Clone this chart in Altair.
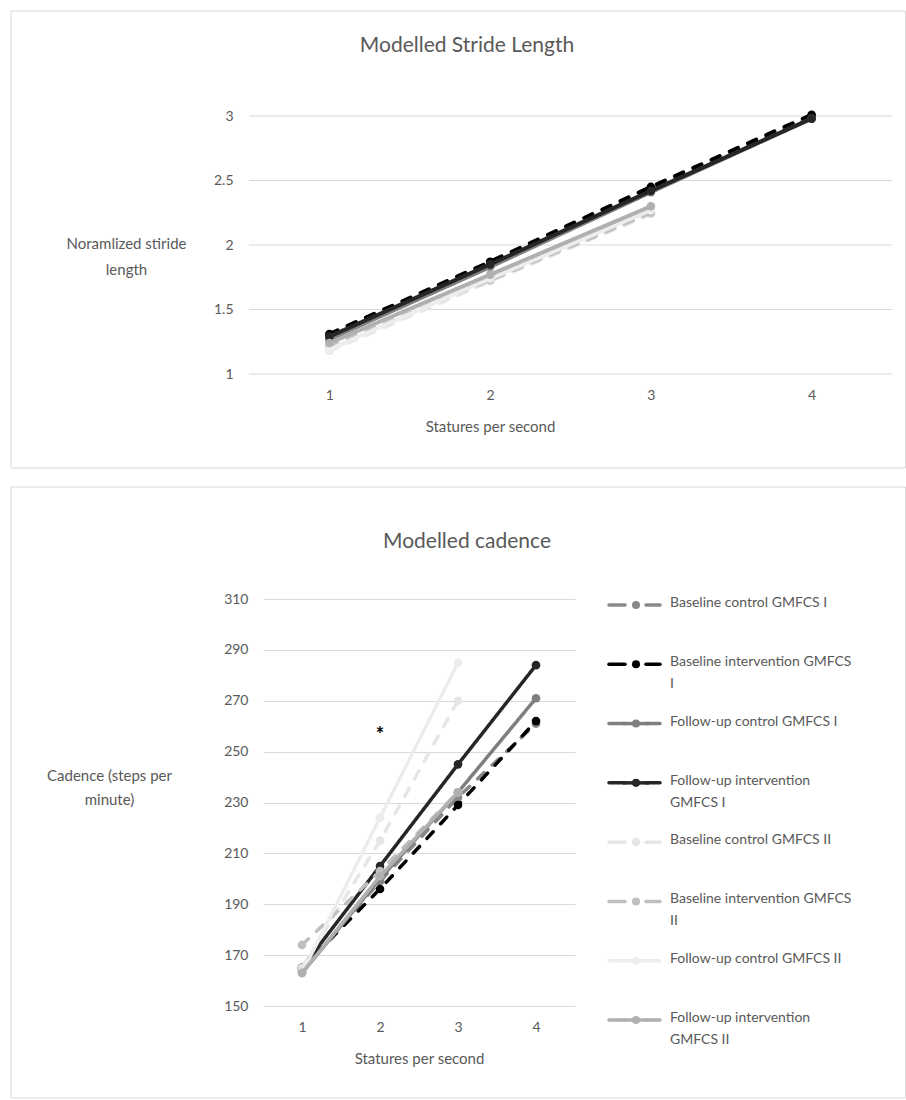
import altair as alt
import pandas as pd

FONT = "Lato"
TEXT_GREY = "#595959"
GRID_GREY = "#d9d9d9"

# Series (legend order) and their styling
series = [
    "Baseline control GMFCS I",
    "Baseline intervention GMFCS I",
    "Follow-up control GMFCS I",
    "Follow-up intervention GMFCS I",
    "Baseline control GMFCS II",
    "Baseline intervention GMFCS II",
    "Follow-up control GMFCS II",
    "Follow-up intervention GMFCS II",
]
legend_labels = [
    "Baseline control GMFCS I",
    "Baseline intervention GMFCS\nI",
    "Follow-up control GMFCS I",
    "Follow-up intervention\nGMFCS I",
    "Baseline control GMFCS II",
    "Baseline intervention GMFCS\nII",
    "Follow-up control GMFCS II",
    "Follow-up intervention\nGMFCS II",
]
colors = ["#898989", "#000000", "#7f7f7f", "#262626",
          "#e6e6e6", "#bfbfbf", "#ededed", "#b0b0b0"]
dashed = [True, True, False, False, True, True, False, False]

# Statures per second
statures = [1, 2, 3, 4]

# Normalised stride length per series
stride = {
    "Baseline control GMFCS I":        [1.28, 1.84, 2.42, 2.99],
    "Baseline intervention GMFCS I":   [1.31, 1.87, 2.45, 3.01],
    "Follow-up control GMFCS I":       [1.27, 1.83, 2.41, 2.98],
    "Follow-up intervention GMFCS I":  [1.29, 1.85, 2.42, 2.98],
    "Baseline control GMFCS II":       [1.18, 1.72, 2.24],
    "Baseline intervention GMFCS II":  [1.21, 1.73, 2.25],
    "Follow-up control GMFCS II":      [1.19, 1.74, 2.27],
    "Follow-up intervention GMFCS II": [1.24, 1.77, 2.30],
}

# Cadence (steps per minute) per series
cadence = {
    "Baseline control GMFCS I":        [164, 199, 232, 261],
    "Baseline intervention GMFCS I":   [165, 196, 229, 262],
    "Follow-up control GMFCS I":       [163, 200, 234, 271],
    "Follow-up intervention GMFCS I":  [165, 205, 245, 284],
    "Baseline control GMFCS II":       [165, 215, 270],
    "Baseline intervention GMFCS II":  [174, 203, 234],
    "Follow-up control GMFCS II":      [163, 224, 285],
    "Follow-up intervention GMFCS II": [163, 201, 234],
}

# Significance marker on the cadence panel
star_x = [2]
star_y = [256]

stride_ticks = [1, 1.5, 2, 2.5, 3]
cadence_ticks = [150, 170, 190, 210, 230, 250, 270, 290, 310]


def long_table(values):
    rows = []
    for s in series:
        for x, v in zip(statures, values[s]):
            rows.append({"series": s, "stature": x, "value": v})
    return pd.DataFrame(rows)


stride_df = long_table(stride)
cadence_df = long_table(cadence)

color_scale = alt.Scale(domain=series, range=colors)


def series_layers(df, x_enc, y_enc, width):
    layers = []
    for i, s in enumerate(series):
        base = alt.Chart(df).transform_filter(alt.datum.series == s)
        dash = [9, 11] if dashed[i] else [1, 0]
        line = base.mark_line(strokeWidth=width, strokeDash=dash, strokeCap="round").encode(
            x=x_enc, y=y_enc,
            color=alt.Color("series:N", scale=color_scale, legend=None),
        )
        pts = base.mark_circle(size=75, opacity=1).encode(
            x=x_enc, y=y_enc,
            color=alt.Color("series:N", scale=color_scale, legend=None),
        )
        layers += [line, pts]
    return layers


def frame(x1, x2, y1, y2):
    return alt.Chart(pd.DataFrame({"f": [0]})).mark_rect(
        fillOpacity=0, stroke=GRID_GREY, strokeWidth=1
    ).encode(x=alt.value(x1), x2=alt.value(x2), y=alt.value(y1), y2=alt.value(y2))


def heading(text, x, y):
    return alt.Chart(pd.DataFrame({"t": [text]})).mark_text(
        font=FONT, fontSize=21, color=TEXT_GREY, align="center", baseline="middle"
    ).encode(text="t:N", x=alt.value(x), y=alt.value(y))


def x_axis(title_x):
    return alt.Axis(
        values=statures, format="d", grid=False, ticks=False, domain=False,
        labelFont=FONT, labelFontSize=14, labelColor=TEXT_GREY, labelPadding=14,
        title="Statures per second", titleFont=FONT, titleFontSize=15,
        titleFontWeight="normal", titleColor=TEXT_GREY,
        titleX=title_x, titleY=45, titleAlign="center", titleBaseline="top",
    )


def y_axis(values, title, title_x, title_y, fmt, grid, pad, line_h):
    return alt.Axis(
        values=values, format=fmt, grid=grid, gridColor=GRID_GREY, gridWidth=1,
        ticks=False, domain=False,
        labelFont=FONT, labelFontSize=14, labelColor=TEXT_GREY, labelPadding=pad,
        title=title, titleFont=FONT, titleFontSize=15, titleFontWeight="normal",
        titleColor=TEXT_GREY, titleAngle=0, titleX=title_x, titleY=title_y,
        titleAlign="center", titleBaseline="top", titleLineHeight=line_h,
    )


# ---- Stride length panel ----
# The plot group starts at the shared column origin; the x range reaches
# 14px further left so the stride panel spans its own wider area.
TW, TH = 629, 258
TOP_SHIFT = -14
stride_y_scale = alt.Scale(domain=[1, 3], nice=False, zero=False)
xs_top = alt.X("stature:Q",
               scale=alt.Scale(domain=[0.5, 4.5], range=[TOP_SHIFT, TW], nice=False),
               axis=x_axis(227))
ys_top = alt.Y("value:Q", scale=stride_y_scale,
               axis=y_axis(stride_ticks, ["Noramlized stiride", "length"], -137, 120,
                           "~g", False, 30, 26))

stride_grid = alt.Chart(pd.DataFrame({"value": stride_ticks})).mark_rule(
    color=GRID_GREY, strokeWidth=1
).encode(y=alt.Y("value:Q", scale=stride_y_scale), x=alt.value(TOP_SHIFT), x2=alt.value(TW))

top = alt.layer(
    frame(-252, 642.5, -105, 352),
    heading("Modelled Stride Length", 204, -70),
    stride_grid,
    *series_layers(stride_df, xs_top, ys_top, 4),
).properties(width=TW, height=TH)

# ---- Cadence panel ----
BW, BH = 312, 407
xs_bot = alt.X("stature:Q", scale=alt.Scale(domain=[0.5, 4.5], nice=False), axis=x_axis(BW / 2))
ys_bot = alt.Y("value:Q", scale=alt.Scale(domain=[150, 310], nice=False, zero=False),
               axis=y_axis(cadence_ticks, ["Cadence (steps per", "minute)"], -154, 169,
                           "d", True, 15, 24))

star = alt.Chart(pd.DataFrame({"stature": star_x, "value": star_y, "t": ["*"]})).mark_text(
    font=FONT, fontSize=20, fontWeight="bold", color="#000000", baseline="middle"
).encode(x=alt.X("stature:Q"), y=alt.Y("value:Q"), text="t:N")

plot_main = alt.layer(*series_layers(cadence_df, xs_bot, ys_bot, 3.5), star)

# Legend block drawn to the right of the plot
leg_df = pd.DataFrame({
    "series": series,
    "label": legend_labels,
    "solid": [not d for d in dashed],
})
leg_y = alt.Y("series:N", sort=series,
              scale=alt.Scale(type="point", domain=series, range=[6, 421], padding=0),
              axis=None)
leg_color = alt.Color("series:N", scale=color_scale, legend=None)
leg_base = alt.Chart(leg_df)
leg_left = leg_base.mark_rule(strokeWidth=3.5, strokeCap="round").encode(
    x=alt.value(346), x2=alt.value(362), y=leg_y, color=leg_color)
leg_right = leg_base.mark_rule(strokeWidth=3.5, strokeCap="round").encode(
    x=alt.value(383), x2=alt.value(397), y=leg_y, color=leg_color)
leg_mid = leg_base.transform_filter(alt.datum.solid).mark_rule(strokeWidth=3.5).encode(
    x=alt.value(360), x2=alt.value(386), y=leg_y, color=leg_color)
leg_dot = leg_base.mark_circle(size=65, opacity=1).encode(
    x=alt.value(373), y=leg_y, color=leg_color)
leg_text = leg_base.mark_text(
    font=FONT, fontSize=14, color=TEXT_GREY, align="left", baseline="top",
    lineBreak="\n", lineHeight=22, dy=-9,
).encode(x=alt.value(407), y=leg_y, text="label:N")

legend_block = alt.layer(leg_left, leg_right, leg_mid, leg_dot, leg_text)

bottom = alt.layer(
    frame(-252, 642.5, -112, 499),
    heading("Modelled cadence", 204, -57),
    plot_main,
    legend_block,
).resolve_scale(y="independent").properties(width=BW, height=BH)

chart = alt.concat(top, bottom, columns=1, spacing=17).properties(
    padding={"left": 10, "top": 10, "right": 0, "bottom": 0},
    background="white",
).configure_view(stroke=None)

chart.save("out.html", embed_options={"renderer": "svg", "actions": False})
